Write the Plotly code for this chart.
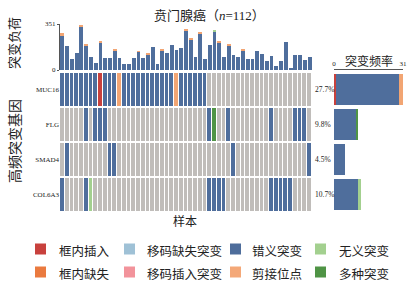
import plotly.graph_objects as go

# ---------------- data ----------------
genes = ["MUC16", "FLG", "SMAD4", "COL6A3"]
pct_labels = ["27.7%", "9.8%", "4.5%", "10.7%"]

# mutation burden per sample (total height of each top bar)
burden_total = [279, 181, 85, 132, 346, 196, 103, 54, 214, 93,
                93, 157, 93, 46, 46, 93, 145, 93, 124, 175,
                46, 155, 132, 191, 150, 165, 310, 240, 103, 284,
                85, 188, 305, 214, 103, 196, 111, 98, 155, 85,
                85, 145, 124, 72, 105, 28, 72, 214, 8, 111,
                111, 77, 98]
# small coloured caps on top of some burden bars
burden_cap_splice = [14, 0, 0, 0, 14, 8, 0, 0, 6, 0,
                     0, 8, 0, 0, 0, 0, 6, 0, 6, 0,
                     0, 6, 0, 0, 0, 0, 12, 8, 0, 6,
                     0, 0, 0, 8, 0, 8, 0, 0, 6, 0,
                     0, 0, 0, 0, 0, 0, 0, 0, 0, 0,
                     0, 0, 0]
burden_cap_nonsense = [0] * 32 + [18] + [0] * 20

# oncoprint rows: M missense, I in-frame insertion, S splice site,
# X multiple, N nonsense, . none
onco_rows = [
    "MMMMMMMMIM" "MMSMMMMMMM" "MMMMSMMMMM" "M........." ".........." "...",
    ".....M.MMM" ".........." ".........." ".MX..M...." "....M....M" "MM.",
    ".M........" "MM........" ".........." "......M..." ".........." "..M",
    "M....MN..." ".........." ".........." ".MMMM....." "....MMMMM." "...",
]
freq_max = 31

legend_labels = ["框内插入", "移码缺失突变", "错义突变", "无义突变",
                 "框内缺失", "移码插入突变", "剪接位点", "多种突变"]
legend_colors = ["#c8413d", "#9fc1d6", "#4e6d9b", "#a3d08f",
                 "#ea7a3f", "#f2939b", "#f4a878", "#4f9445"]

# ---------------- styling ----------------
W, H = 412, 286
def px(x): return x / W
def py(y): return 1 - y / H

GRAY = "#c0bdba"
BLUE = "#4f6e9c"
RED = "#c8413d"
ORANGE = "#f2a573"
GREEN = "#4f9445"
LGREEN = "#a3d08f"
TXT = "#222222"
FONT = "Liberation Serif, 'Noto Sans CJK SC', serif"

code_map = {".": 0, "M": 1, "I": 2, "S": 3, "X": 4, "N": 5}
code_colors = [GRAY, BLUE, RED, ORANGE, GREEN, LGREEN]
n = len(burden_total)
z = [[code_map[c] for c in row] for row in onco_rows]

colorscale = []
for k, c in enumerate(code_colors):
    colorscale.append([k / len(code_colors), c])
    colorscale.append([(k + 1) / len(code_colors), c])

fig = go.Figure()

# top burden bars
samples = list(range(n))
burden_main = [t - a - b for t, a, b in zip(burden_total, burden_cap_splice, burden_cap_nonsense)]
fig.add_trace(go.Bar(x=samples, y=burden_main, marker_color=BLUE, marker_line_width=0,
                     width=0.8, xaxis="x", yaxis="y", showlegend=False, hoverinfo="skip"))
fig.add_trace(go.Bar(x=samples, y=burden_cap_splice, marker_color=ORANGE, marker_line_width=0,
                     width=0.8, xaxis="x", yaxis="y", showlegend=False, hoverinfo="skip"))
fig.add_trace(go.Bar(x=samples, y=burden_cap_nonsense, marker_color=LGREEN, marker_line_width=0,
                     width=0.8, xaxis="x", yaxis="y", showlegend=False, hoverinfo="skip"))

# oncoprint heatmap
fig.add_trace(go.Heatmap(z=z, x=samples, y=list(range(len(genes))), zmin=-0.5, zmax=5.5,
                         colorscale=colorscale, showscale=False, xgap=1, ygap=2,
                         xaxis="x2", yaxis="y2", hoverinfo="skip"))

# right frequency bars
rows_idx = list(range(len(genes)))
for code, col in [("I", RED), ("M", BLUE), ("S", ORANGE), ("X", GREEN), ("N", LGREEN)]:
    counts = [row.count(code) for row in onco_rows]
    fig.add_trace(go.Bar(y=rows_idx, x=counts, orientation="h", marker_color=col,
                         marker_line_width=0, width=0.86, xaxis="x3", yaxis="y3",
                         showlegend=False, hoverinfo="skip"))

x_dom = [px(60), px(312)]
fig.update_layout(
    width=W, height=H, margin=dict(l=0, r=0, t=0, b=0, autoexpand=False),
    paper_bgcolor="white", plot_bgcolor="white",
    barmode="stack", font=dict(family=FONT, color=TXT),
    xaxis=dict(domain=x_dom, range=[-0.5, n - 0.5], visible=False, anchor="y"),
    yaxis=dict(domain=[py(70), py(24)], range=[0, 351], tickvals=[0, 351],
               showline=True, linecolor="#555", linewidth=1, ticks="outside",
               ticklen=2, tickcolor="#555", tickfont=dict(size=7, color=TXT), showgrid=False,
               zeroline=False, anchor="x", automargin=False),
    xaxis2=dict(domain=x_dom, range=[-0.5, n - 0.5], visible=False, anchor="y2"),
    yaxis2=dict(domain=[py(212), py(72)], range=[3.5, -0.5], tickvals=rows_idx,
                ticktext=genes, tickfont=dict(size=7, color=TXT), showgrid=False, zeroline=False,
                showline=False, ticks="", anchor="x2", automargin=False),
    xaxis3=dict(domain=[px(334), px(403)], range=[0, freq_max], tickvals=[0, freq_max],
                side="top", anchor="free", position=py(69), showline=True,
                linecolor="#555", linewidth=1, ticks="", tickfont=dict(size=7, color=TXT),
                showgrid=False, zeroline=False, automargin=False),
    yaxis3=dict(domain=[py(212), py(72)], range=[3.5, -0.5], visible=False, anchor="x3"),
)

ann = []
def add_text(text, x, y, size, angle=0, xanchor="center", yref="paper"):
    ann.append(dict(text=text, x=x, y=y, xref="paper", yref=yref, xanchor=xanchor,
                    yanchor="middle", textangle=angle, showarrow=False,
                    font=dict(size=size, color=TXT)))

add_text("贲门腺癌（<i>n</i>=112）", px(209), py(16), 13)
add_text("突变负荷", px(15), py(43), 13, angle=-90)
add_text("高频突变基因", px(15), py(141), 14, angle=-90)
add_text("样本", px(185), py(221), 12)
add_text("突变频率", px(369), py(61), 12)
for i, lab in enumerate(pct_labels):
    add_text(lab, px(313), i, 7.5, xanchor="left", yref="y2")

# legend (2 rows x 4 columns)
sq_x = [35, 124, 230, 315]
tx_x = [57, 145, 250, 337]
row_y = [249, 272]
shapes = []
for k, (lab, col) in enumerate(zip(legend_labels, legend_colors)):
    r, c = divmod(k, 4)
    shapes.append(dict(type="rect", xref="paper", yref="paper",
                       x0=px(sq_x[c]), x1=px(sq_x[c] + 11),
                       y0=py(row_y[r] + 5.5), y1=py(row_y[r] - 5.5),
                       fillcolor=col, line=dict(width=0)))
    add_text(lab, px(tx_x[c]), py(row_y[r] + 2.5), 12.5, xanchor="left")

fig.update_layout(annotations=ann, shapes=shapes)
fig.write_html("out.html", config={"displayModeBar": False},
               post_script="document.body.style.margin='0';document.body.style.overflow='hidden';")
